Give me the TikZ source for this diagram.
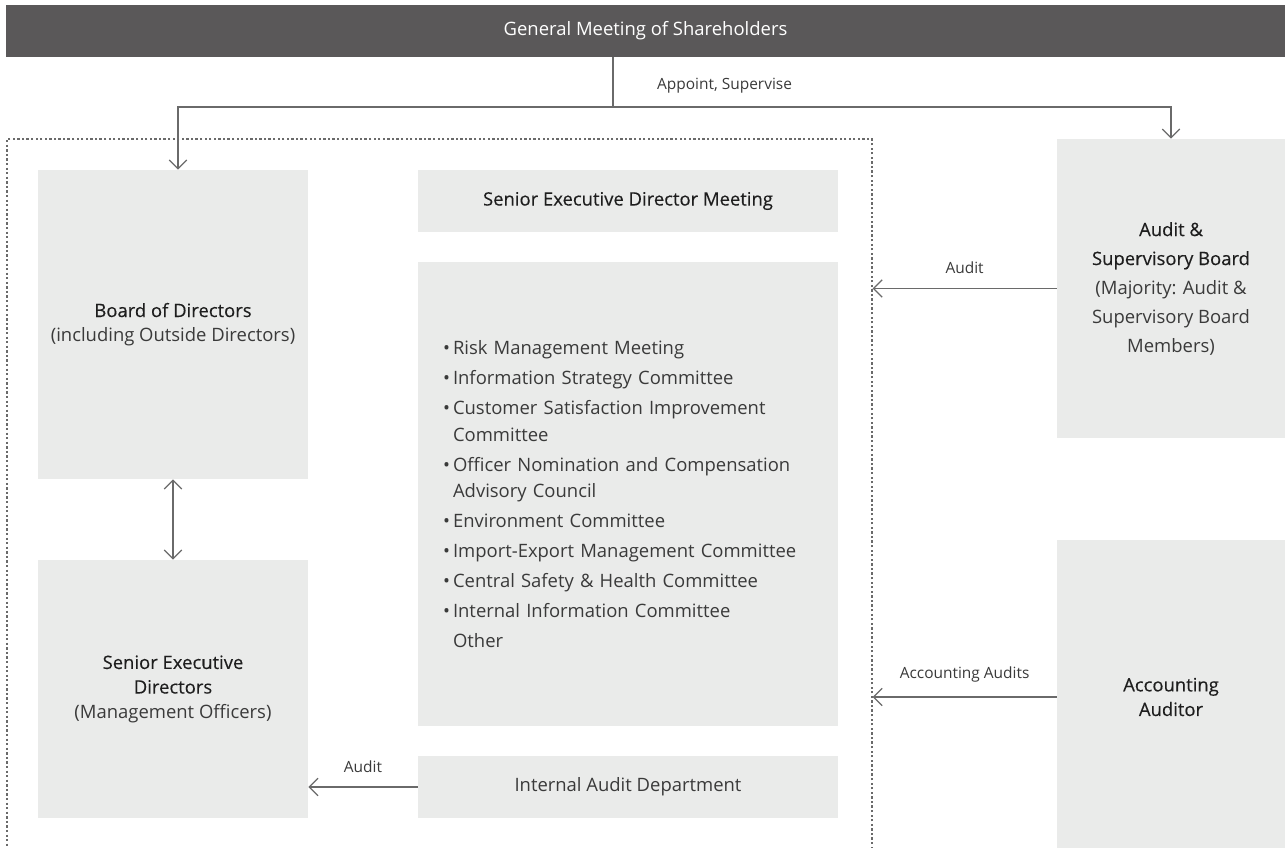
\documentclass[tikz,border=0pt]{standalone}
\usepackage{fontspec}
\setmainfont{Open Sans}
\newfontfamily\medfont[FakeBold=0.25]{Open Sans}
\usetikzlibrary{arrows.meta,positioning,fit}
\definecolor{bar}{HTML}{5A5859}
\definecolor{boxfill}{HTML}{EAEBEA}
\definecolor{ink}{HTML}{1E1E1E}
\definecolor{soft}{HTML}{3A3A3A}
\definecolor{wire}{HTML}{6A6A6A}
\newcommand{\ttl}[1]{{\medfont\color{ink}#1}}
\newcommand{\itm}{\makebox[0.2cm][l]{\textbullet}}
\newcommand{\cont}{\hspace*{0.2cm}}
\tikzset{
  box/.style={fill=boxfill, draw=none, align=center, inner sep=0pt,
              font=\fontsize{10.5}{14}\selectfont, text=soft},
  hdr/.style={fill=bar, draw=none, text=white, inner sep=0pt,
              font=\fontsize{10.5}{14}\selectfont},
  frame/.style={draw=wire, line width=0.6pt, dash pattern=on 1.3pt off 1.3pt, inner sep=0pt},
  ar/.style={-{Straight Barb[length=5pt,width=10pt]}, line width=0.7pt, draw=wire},
  arboth/.style={{Straight Barb[length=5pt,width=10pt]}-{Straight Barb[length=5pt,width=10pt]}, line width=0.7pt, draw=wire},
  lbl/.style={font=\fontsize{8.8}{11}\selectfont, text=soft, inner sep=1pt}
}

\begin{document}
\begin{tikzpicture}[x=0.02cm,y=-0.02cm]
  \useasboundingbox (0,0) rectangle (1285,848);

  \node[hdr, minimum width=25.58cm, minimum height=1.04cm] (gms) at (645.5,31) {General Meeting of Shareholders};

  % dotted group round the company bodies
  \node[frame, fit={(7,139) (872,870)}] (grp) {};

  \node[box, minimum width=5.4cm, minimum height=6.18cm] (bod) at (173,324.5)
    {\ttl{Board of Directors}\\(including Outside Directors)};
  \node[box, minimum width=5.4cm, minimum height=5.16cm] (sed) at (173,689)
    {\ttl{Senior Executive}\\\ttl{Directors}\\(Management Officers)};

  \node[box, minimum width=8.4cm, minimum height=1.24cm] (sedm) at (628,201)
    {\ttl{Senior Executive Director Meeting}};
  \node[box, minimum width=8.4cm, minimum height=9.28cm, text width=7.4cm, inner xsep=0.5cm,
        align=left, font=\fontsize{10.5}{15.3}\selectfont] (cmt) at (628,494)
    {\itm Risk Management Meeting\\[1.7pt]
     \itm Information Strategy Committee\\[1.7pt]
     \itm Customer Satisfaction Improvement\\
     \cont Committee\\[1.7pt]
     \itm Officer Nomination and Compensation\\
     \cont Advisory Council\\[1.7pt]
     \itm Environment Committee\\[1.7pt]
     \itm Import-Export Management Committee\\[1.7pt]
     \itm Central Safety \& Health Committee\\[1.7pt]
     \itm Internal Information Committee\\[1.7pt]
     \cont Other};
  \node[box, minimum width=8.4cm, minimum height=1.24cm] (iad) at (628,787)
    {Internal Audit Department};

  \node[box, minimum width=4.56cm, minimum height=5.98cm, font=\fontsize{10.5}{16.5}\selectfont] (asb) at (1171,288.5)
    {\ttl{Audit \&}\\\ttl{Supervisory Board}\\(Majority: Audit \&\\Supervisory Board\\Members)};
  \node[box, minimum width=4.56cm, minimum height=6.28cm] (aa) at (1171,697)
    {\ttl{Accounting}\\\ttl{Auditor}};

  % appointment lines
  \coordinate (split) at (613,107);
  \draw[wire, line width=0.7pt] (gms.south -| split) -- (split);
  \draw[ar] (split) -| ([xshift=0.1cm]bod.north);
  \draw[ar] (split) -| (asb.north);
  \node[lbl, anchor=west] (appt) at (655,86) {Appoint, Supervise};

  \draw[arboth] (bod.south) -- (sed.north);
  \draw[ar] (iad.west) -- node[lbl, above=7pt] {Audit} (iad.west -| sed.east);
  \draw[ar] (asb.west) -- node[lbl, above=7pt] {Audit} (asb.west -| grp.east);
  \draw[ar] (aa.west) -- node[lbl, above=7pt] {Accounting Audits} (aa.west -| grp.east);
\end{tikzpicture}
\end{document}
